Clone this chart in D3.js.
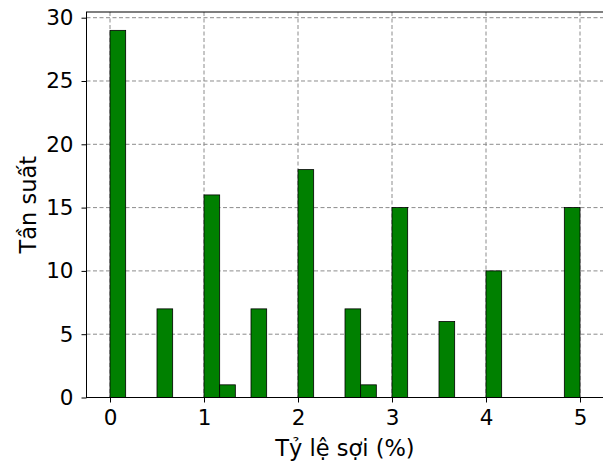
<!DOCTYPE html>
<html>
<head>
<meta charset="utf-8">
<script src="https://cdn.jsdelivr.net/npm/d3@7"></script>
<style>
  html, body { margin: 0; padding: 0; background: #fff; }
  svg text { font-family: "DejaVu Sans", sans-serif; fill: #000; }
</style>
</head>
<body>
<svg id="chart" width="603" height="467"></svg>
<script>
// Histogram of fibre ratio: 30 equal bins between 0 and 5 %
const binStart = 0;
const binEnd = 5;
const binCount = 30;
const counts = [29, 0, 0, 7, 0, 0, 16, 1, 0, 7, 0, 0, 18, 0, 0, 7, 1, 0, 15, 0, 0, 6, 0, 0, 10, 0, 0, 0, 0, 15];
const xTicks = [0, 1, 2, 3, 4, 5];
const yTicks = [0, 5, 10, 15, 20, 25, 30];
const xLabel = "Tỷ lệ sợi (%)";
const yLabel = "Tần suất";

const svg = d3.select("#chart");
const plot = { left: 86.5, right: 603.5, top: 12, bottom: 397.5 };

const binW = (binEnd - binStart) / binCount;
const bins = counts.map((c, i) => ({ x0: binStart + i * binW, x1: binStart + (i + 1) * binW, n: c }));

const pad = 0.05 * (binEnd - binStart);
const x = d3.scaleLinear().domain([binStart - pad, binEnd + pad]).range([plot.left, plot.right]);
const yMax = d3.max(counts) * 1.05;
const y = d3.scaleLinear().domain([0, yMax]).range([plot.bottom, plot.top]);

// grid
const grid = svg.append("g").attr("stroke", "#8c8c8c").attr("stroke-width", 1).attr("stroke-dasharray", "4,2.5");
grid.selectAll(".gx").data(xTicks).join("line")
  .attr("x1", d => x(d)).attr("x2", d => x(d))
  .attr("y1", plot.top).attr("y2", plot.bottom);
grid.selectAll(".gy").data(yTicks).join("line")
  .attr("x1", plot.left).attr("x2", plot.right)
  .attr("y1", d => y(d)).attr("y2", d => y(d));

// bars
svg.append("g").selectAll("rect").data(bins.filter(b => b.n > 0)).join("rect")
  .attr("x", d => x(d.x0))
  .attr("width", d => x(d.x1) - x(d.x0))
  .attr("y", d => y(d.n))
  .attr("height", d => y(0) - y(d.n))
  .attr("fill", "#008000")
  .attr("stroke", "#000")
  .attr("stroke-width", 0.8);

// axes
const xAxis = svg.append("g").attr("transform", `translate(0,${plot.bottom})`)
  .call(d3.axisBottom(x).tickValues(xTicks).tickFormat(d3.format("d")).tickSize(5).tickPadding(7));
const yAxis = svg.append("g").attr("transform", `translate(${plot.left},0)`)
  .call(d3.axisLeft(y).tickValues(yTicks).tickFormat(d3.format("d")).tickSize(5).tickPadding(8));
[xAxis, yAxis].forEach(a => {
  a.select(".domain").remove();
  a.selectAll("line").attr("stroke", "#000").attr("stroke-width", 1);
  a.selectAll("text").attr("font-size", 21.5).attr("font-family", "DejaVu Sans");
});

// frame
svg.append("rect")
  .attr("x", plot.left).attr("y", plot.top)
  .attr("width", plot.right - plot.left).attr("height", plot.bottom - plot.top)
  .attr("fill", "none").attr("stroke", "#000").attr("stroke-width", 1);

// axis titles
svg.append("text")
  .attr("x", (plot.left + plot.right) / 2).attr("y", 455.5)
  .attr("text-anchor", "middle").attr("font-size", 22.5)
  .text(xLabel);
svg.append("text")
  .attr("transform", `translate(36,${(plot.top + plot.bottom) / 2}) rotate(-90)`)
  .attr("text-anchor", "middle").attr("font-size", 22.5)
  .text(yLabel);
</script>
</body>
</html>
